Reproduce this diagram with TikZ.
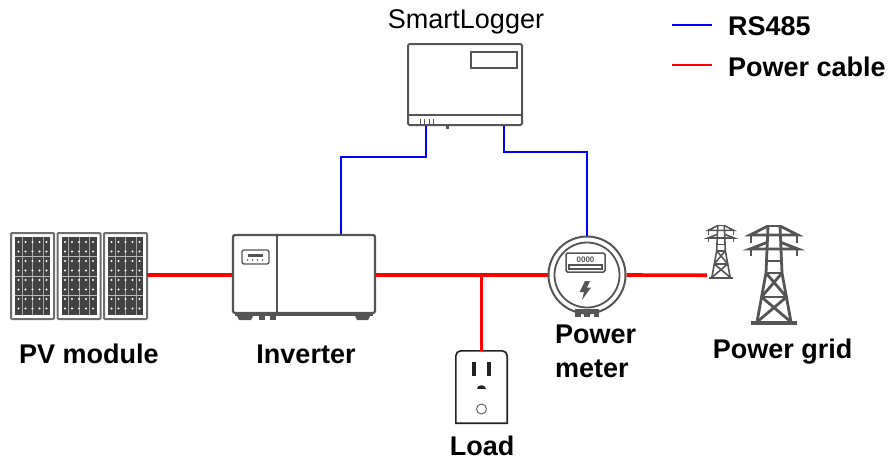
\documentclass[tikz,border=0pt]{standalone}
\usepackage{fontspec}
\setmainfont{Liberation Sans}
\definecolor{devgray}{HTML}{555555}
\definecolor{framegray}{HTML}{6E6E6E}
\definecolor{cellgray}{HTML}{424242}
\definecolor{outletc}{HTML}{222222}
\definecolor{rsblue}{HTML}{0000FF}
\definecolor{pwred}{HTML}{FF0000}
\begin{document}
\begin{tikzpicture}[x=1pt,y=-1pt,
  dev/.style={draw=devgray, line width=2.2pt},
  thin/.style={draw=devgray, line width=1.3pt},
  power/.style={draw=pwred, line width=3.6pt},
  rs/.style={draw=rsblue, line width=1.6pt},
  lbl/.style={font=\fontsize{27}{32}\selectfont\bfseries, inner sep=0pt, text=black},
  pvpanel/.pic={
    \draw[draw=framegray, line width=2pt, fill=white, rounded corners=1pt] (0,0) rectangle (43,86);
    \fill[cellgray] (4,4) rectangle (39,82);
    \foreach \cx in {11,21.5,32}
      \draw[gray!70, line width=0.7pt] (\cx,4) -- (\cx,82);
    \foreach \cy in {23.5,43,62.5}
      \draw[gray!55, line width=0.5pt] (4,\cy) -- (39,\cy);
    \foreach \cx in {7.5,14.5,21.5,28.5,35.5}
      \foreach \cy in {9,18.5,28,37.5,47,56.5,66,75.5}
        \fill[white] (\cx,\cy) circle[radius=1.1pt];
    \coordinate (-east) at (43,42);
  },
  pylon/.pic={
    % top cap and the roof struts down to the upper cross arm
    \draw (-7,1) -- (7,1);
    \draw (-6,1) -- (-24,10) -- (24,10) -- (6,1);
    \draw (-23,10) -- (-23,18) (23,10) -- (23,18);
    % lower cross arm
    \draw (-6,17) -- (-24,24) -- (24,24) -- (6,17);
    \draw (-23,24) -- (-23,31) (23,24) -- (23,31);
    % legs
    \draw (-6,1) -- (-8,48) -- (-17,97) (6,1) -- (8,48) -- (17,97);
    \draw (-7,36) -- (7,36);
    % struts and cross bracing
    \draw (-8,48) -- (8,48) (-12.5,72) -- (12.5,72);
    \draw (-8,48) -- (12.5,72) (8,48) -- (-12.5,72);
    \draw (-12.5,72) -- (17,97) (12.5,72) -- (-17,97);
    \fill (-23,95.5) rectangle (23,100);
    \coordinate (-west) at (-26,93);
  }]
\useasboundingbox (0,0) rectangle (893,461);

% ---------- PV modules ----------
\pic (pv1) at (11,233) {pvpanel};
\pic (pv2) at (57.5,233) {pvpanel};
\pic (pv3) at (104,233) {pvpanel};
\node[lbl, anchor=base] (pvlbl) at (89,363) {PV module};

% ---------- Inverter ----------
\node[dev, rounded corners=2pt, minimum width=142pt, minimum height=78pt, inner sep=0pt] (inv) at (304,274) {};
\draw[dev] (277,235) -- (277,313);
\draw[thin, rounded corners=2pt] (242,250) rectangle (269,264);
\fill[devgray] (248,254) rectangle (263,256.5);
\foreach \dx in {247.5,252.5,257.5,262.5}
  \fill[devgray] (\dx,260) circle[radius=0.8pt];
\fill[devgray] (235,313) rectangle (373,316);
\fill[devgray] (237,316) -- (253,316) -- (251,320) -- (239,320) -- cycle;
\fill[devgray] (259,316) rectangle (265,319.5);
\fill[devgray] (270,316) rectangle (276,319.5);
\fill[devgray] (355,316) -- (370,316) -- (368,320) -- (357,320) -- cycle;
\node[lbl, anchor=base] (invlbl) at (306,363) {Inverter};

% ---------- SmartLogger ----------
\node[dev, line width=2pt, rounded corners=1.5pt, minimum width=114pt, minimum height=81pt, inner sep=0pt] (sl) at (465,84.5) {};
\draw[devgray, line width=1.8pt] (408,115) -- (522,115);
\draw[devgray, line width=1.6pt] (471,52) rectangle (517,68);
\foreach \tx in {420,424.5,429,433.5}
  \draw[devgray, line width=1pt] (\tx,119) -- (\tx,123.5);
\fill[devgray] (446,125) rectangle (449,128.5);
\node[font=\fontsize{27}{32}\selectfont, inner sep=0pt, anchor=base] (sllbl) at (466,28) {SmartLogger};

% ---------- Power meter ----------
\node[circle, dev, line width=2pt, minimum size=77pt, inner sep=0pt] (meter) at (587,275) {};
\draw[devgray, line width=1.8pt] (meter.center) circle[radius=32.5pt];
\draw[devgray, line width=1.5pt, rounded corners=1.5pt] (566,253) rectangle (605,272);
\node[font=\fontsize{8}{8}\selectfont\bfseries, text=devgray, inner sep=0pt] (digits) at (585.5,259.5) {0000};
\draw[devgray, line width=1.2pt] (569,265) rectangle (602,269);
\fill[devgray] (585,281) -- (590,281) -- (587,287.5) -- (591,287.5) -- (582,300) -- (584,292) -- (579.5,292) -- cycle;
\fill[devgray] (575,309) rectangle (599,312.5);
\fill[devgray] (575,312) rectangle (580.5,317);
\fill[devgray] (584,312) rectangle (590,317);
\fill[devgray] (593.5,312) rectangle (599,317);
\node[lbl, anchor=base west] (pmlbl1) at (555,343) {Power};
\node[lbl, anchor=base west] (pmlbl2) at (555,377) {meter};

% ---------- Load (outlet) ----------
\node[minimum width=51pt, minimum height=72pt, inner sep=0pt] (load) at (481.5,387) {};
\draw[outletc, line width=1.6pt] (load.south west) -- ([yshift=-5pt]load.north west)
  arc[start angle=180, end angle=90, radius=5pt] -- ([xshift=-5pt]load.north east)
  arc[start angle=90, end angle=0, radius=5pt] -- (load.south east) -- cycle;
\fill[outletc] (472,362) rectangle (475.5,375.5);
\fill[outletc] (487,362) rectangle (490.5,375.5);
\fill[outletc] (477,389) .. controls (477,383.5) and (486,383.5) .. (486,389) -- cycle;
\draw[gray!80!black, line width=1pt] (481.5,409) circle[radius=5pt];
\node[lbl, anchor=base] (loadlbl) at (482,455) {Load};

% ---------- Power grid ----------
\pic[color=devgray, line width=1.6pt, scale=0.54] (tw1) at (721,225) {pylon};
\pic[color=devgray, line width=2.8pt] (tw2) at (774,225) {pylon};
\node[lbl, anchor=base] (gridlbl) at (782.5,358) {Power grid};

% ---------- Power cables ----------
\draw[power] (pv3-east) -- (pv3-east -| inv.west);
\draw[power] (inv.east |- meter.west) -- (meter.west);
\draw[power] (load.north |- meter.west) -- (load.north);
\draw[power] (meter.east) -- (tw1-west);

% ---------- RS485 ----------
\draw[rs] ([xshift=37pt]inv.north) -- ++(0,-77) -| ([xshift=-39pt]sl.south);
\draw[rs] ([xshift=39pt]sl.south) -- ++(0,26) -| (meter.north);

% ---------- Legend ----------
\coordinate (lgb1) at (672,25);
\coordinate (lgb2) at (712,25);
\coordinate (lgr1) at (672,65);
\coordinate (lgr2) at (712,65);
\draw[rsblue, line width=1.8pt] (lgb1) -- (lgb2);
\draw[pwred, line width=2.2pt] (lgr1) -- (lgr2);
\node[lbl, anchor=base west] (lgrs) at (728,35) {RS485};
\node[lbl, anchor=base west] (lgpw) at (728,76) {Power cable};
\end{tikzpicture}
\end{document}
